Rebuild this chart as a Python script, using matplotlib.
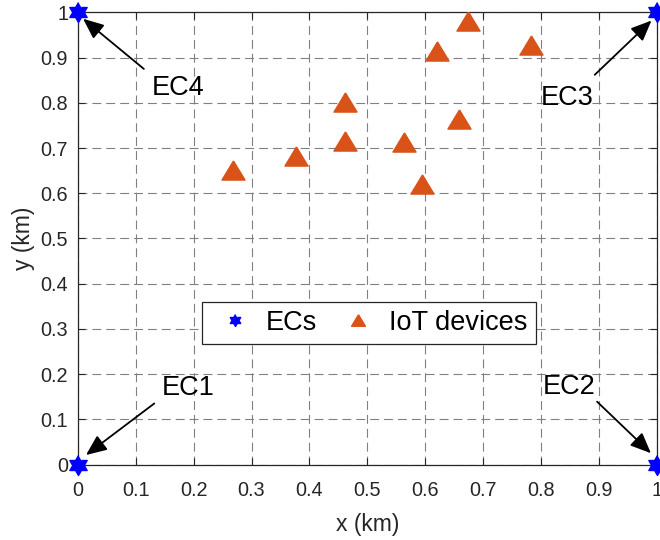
import numpy as np
import matplotlib.pyplot as plt
from matplotlib.path import Path

plt.rcParams['font.family'] = ['Liberation Sans', 'DejaVu Sans']

# ------------------------------------------------------------
# Data
# ------------------------------------------------------------
ec_x = [0, 1, 1, 0]
ec_y = [0, 0, 1, 1]
ec_names = ['EC1', 'EC2', 'EC3', 'EC4']

iot_x = [0.268, 0.377, 0.461, 0.462, 0.564, 0.595, 0.620, 0.674, 0.658, 0.782]
iot_y = [0.651, 0.682, 0.802, 0.716, 0.713, 0.621, 0.915, 0.981, 0.764, 0.927]

# label position, arrow tail, arrow head
label_pos = [(0.19, 0.17), (0.848, 0.172), (0.845, 0.81), (0.173, 0.833)]
arrow_tail = [(0.132, 0.135), (0.897, 0.139), (0.893, 0.862), (0.114, 0.875)]
arrow_head = [(0.014, 0.021), (0.99, 0.025), (0.991, 0.982), (0.009, 0.986)]

# ------------------------------------------------------------
# Markers (hexagram + wide triangle)
# ------------------------------------------------------------
ang = np.deg2rad(90 + 30 * np.arange(12))
rad = np.where(np.arange(12) % 2 == 0, 1.0, 1 / np.sqrt(3))
hexagram = Path(np.column_stack([rad * np.cos(ang), rad * np.sin(ang)]))
triangle = Path([(0, 0.83), (-1, -0.83), (1, -0.83), (0, 0.83)])

blue = '#0000FF'
orange = '#D95319'

# ------------------------------------------------------------
# Plot
# ------------------------------------------------------------
fig = plt.figure(figsize=(6.6, 5.4), dpi=100)
ax = fig.add_axes([0.118, 0.1398, 0.877, 0.8372])

ax.plot(ec_x, ec_y, linestyle='none', marker=hexagram, markersize=14.4,
        color=blue, label='ECs', clip_on=False, zorder=5)
ax.plot(iot_x, iot_y, linestyle='none', marker=triangle, markersize=16.6,
        color=orange, label='IoT devices', zorder=4)

for name, lp, tail, head in zip(ec_names, label_pos, arrow_tail, arrow_head):
    ax.annotate('', xy=head, xytext=tail,
                arrowprops=dict(arrowstyle='-|>,head_length=0.7,head_width=0.3',
                                color='black', lw=1.3, mutation_scale=18,
                                shrinkA=0, shrinkB=0))
    ax.text(lp[0], lp[1], name, ha='center', va='center', fontsize=19.5)

ticks = np.arange(0, 1.01, 0.1)
tick_labels = ['0', '0.1', '0.2', '0.3', '0.4', '0.5', '0.6', '0.7', '0.8', '0.9', '1']
ax.set_xlim(0, 1)
ax.set_ylim(0, 1)
ax.set_xticks(ticks)
ax.set_yticks(ticks)
ax.set_xticklabels(tick_labels)
ax.set_yticklabels(tick_labels)
ax.tick_params(direction='in', length=5, width=0.8, top=True, right=True,
               labelsize=14.3, colors='#262626')
ax.tick_params(axis='x', pad=12)
ax.tick_params(axis='y', pad=7)
for s in ax.spines.values():
    s.set_color('#262626')
    s.set_linewidth(0.9)

ax.grid(True, color='#808080', linestyle=(0, (8, 4.5)), linewidth=0.8)
ax.set_axisbelow(True)

ax.set_xlabel('x (km)', fontsize=16.5, color='#262626', labelpad=9)
ax.set_ylabel('y (km)', fontsize=16.5, color='#262626', labelpad=4)

leg = ax.legend(loc='center', bbox_to_anchor=(0.503, 0.3135), ncol=2,
                fontsize=19.5, markerscale=0.6, fancybox=False, framealpha=1,
                edgecolor='#262626', handletextpad=0.25, columnspacing=0.6,
                borderpad=0.3, handlelength=1.8)
leg.get_frame().set_linewidth(0.9)

fig.savefig('out.png', dpi=100)
